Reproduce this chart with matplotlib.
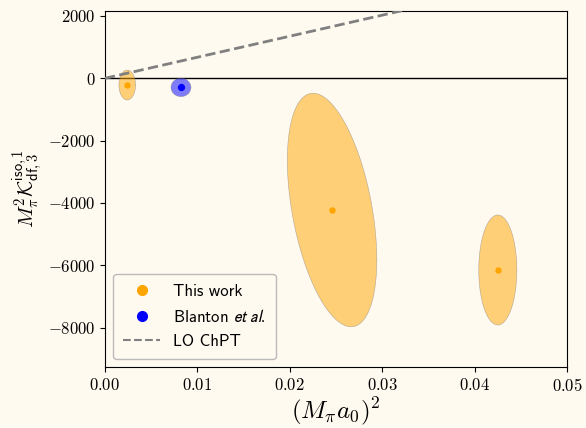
import numpy as np
import matplotlib
matplotlib.use("Agg")
import matplotlib.pyplot as plt
from matplotlib.lines import Line2D

plt.rcParams['mathtext.fontset'] = 'cm'
plt.rcParams['font.family'] = 'serif'
plt.rcParams['font.serif'] = ['cmr10', 'DejaVu Serif']
plt.rcParams['axes.formatter.use_mathtext'] = True
plt.rcParams['axes.unicode_minus'] = True

# Data: centers, half-extents, correlation
this_x = [0.00242, 0.02458, 0.04251]
this_y = [-215.0, -4225.0, -6150.0]
this_sx = [0.00090, 0.00484, 0.00206]
this_sy = [481.0, 3747.0, 1765.0]
this_rho = [0.0, -0.425, 0.0]

blanton_x = [0.00823]
blanton_y = [-292.0]
blanton_sx = [0.00108]
blanton_sy = [295.0]
blanton_rho = [0.0]

lo_x = [0.0, 0.05]
lo_y = [0.0, 3375.0]

bg = '#FFFAF0'
fig = plt.figure(figsize=(5.86, 4.28), dpi=100, facecolor=bg)
ax = fig.add_axes([0.179, 0.1418, 0.7886, 0.8332])
ax.set_facecolor(bg)

t = np.linspace(0, 2 * np.pi, 200)


def draw_ellipse(cx, cy, sx, sy, rho, color):
    ex = cx + sx * np.cos(t)
    ey = cy + sy * (rho * np.cos(t) + np.sqrt(1 - rho ** 2) * np.sin(t))
    ax.fill(ex, ey, facecolor=color, alpha=0.5, edgecolor='none', zorder=2)
    ax.plot(ex, ey, color='gray', lw=0.4, alpha=0.6, zorder=2)


for cx, cy, sx, sy, r in zip(this_x, this_y, this_sx, this_sy, this_rho):
    draw_ellipse(cx, cy, sx, sy, r, 'orange')
for cx, cy, sx, sy, r in zip(blanton_x, blanton_y, blanton_sx, blanton_sy, blanton_rho):
    draw_ellipse(cx, cy, sx, sy, r, 'blue')

ax.plot(this_x, this_y, 'o', color='orange', ms=3.6, zorder=3)
ax.plot(blanton_x, blanton_y, 'o', color='blue', ms=4.2, zorder=3)

ax.axhline(0, color='black', lw=1, zorder=1)
ax.plot(lo_x, lo_y, '--', color='gray', lw=2, zorder=4)

ax.set_xlim(0, 0.05)
ax.set_ylim(-9272, 2169)
ax.set_xticks([0.0, 0.01, 0.02, 0.03, 0.04, 0.05])
ax.set_yticks([2000, 0, -2000, -4000, -6000, -8000])
ax.tick_params(labelsize=12)

ax.set_xlabel(r'$(M_\pi a_0)^2$', fontsize=18, labelpad=1)
ax.set_ylabel(r'$M_\pi^2\mathcal{K}_{\mathsf{df},3}^{\mathsf{iso},1}$', fontsize=15, labelpad=2)

handles = [
    Line2D([], [], marker='o', ls='none', color='orange', ms=7),
    Line2D([], [], marker='o', ls='none', color='blue', ms=7),
    Line2D([], [], ls='--', color='gray', lw=1.5),
]
labels = ['This work', r'Blanton $\mathit{et\ al.}$', 'LO ChPT']
leg = ax.legend(handles, labels, loc='lower left', prop={'family': 'cmss10', 'size': 12},
                facecolor=bg, edgecolor='#BBBBBB', framealpha=1, borderpad=0.6,
                labelspacing=0.55, handlelength=2.2)
for txt in leg.get_texts():
    txt.set_math_fontfamily('stixsans')

fig.savefig('out.png', dpi=100, facecolor=bg)
